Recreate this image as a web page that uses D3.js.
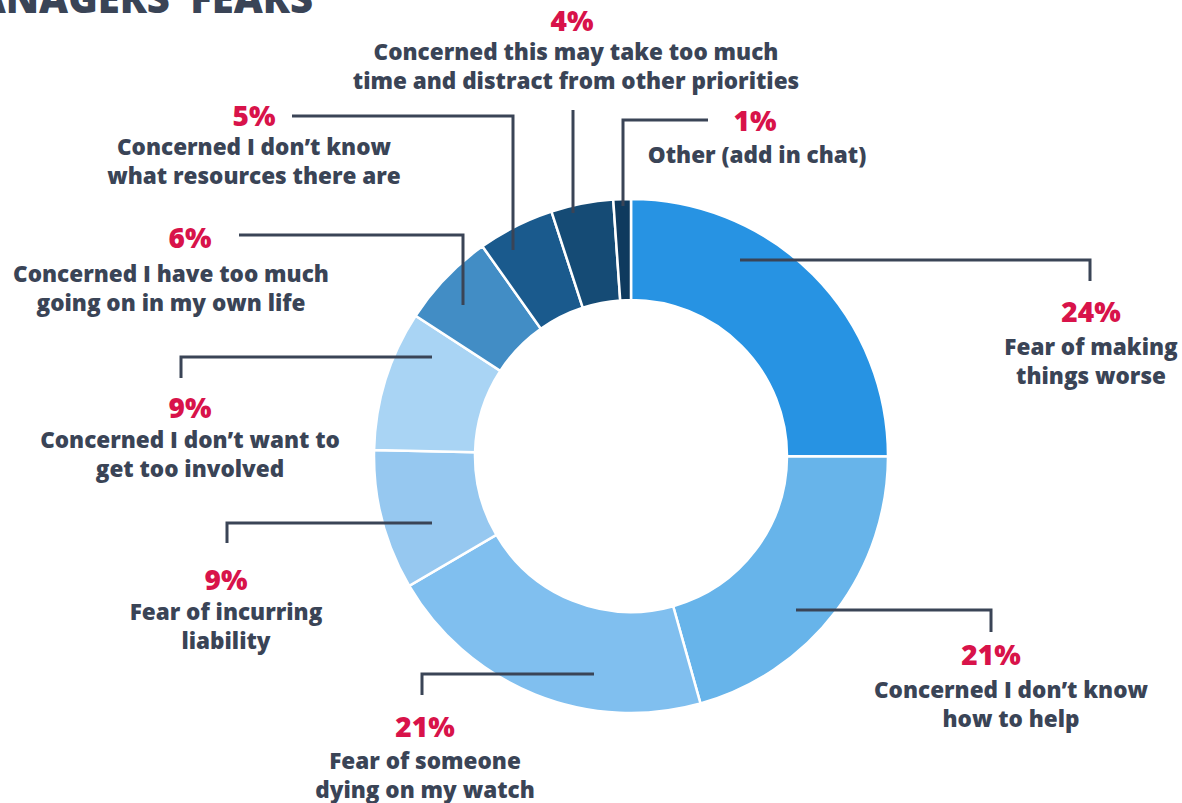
<!DOCTYPE html>
<html>
<head>
<meta charset="utf-8">
<script src="https://cdn.jsdelivr.net/npm/d3@7"></script>
<style>
  body { margin: 0; background: #fff; }
  svg { display: block; font-family: "Open Sans", sans-serif; }
</style>
</head>
<body>
<div id="container"></div>
<script>
const WIDTH = 1182;
const HEIGHT = 803;

var values = [25, 20.6, 20.9, 8.8, 8.8, 6.0, 4.8, 3.9, 1.1];
// shown percentages
var pctLabels = ["24%", "21%", "21%", "9%", "9%", "6%", "5%", "4%", "1%"];
var categories = [
    ["Fear of making", "things worse"],
    ["Concerned I don\u2019t know", "how to help"],
    ["Fear of someone", "dying on my watch"],
    ["Fear of incurring", "liability"],
    ["Concerned I don\u2019t want to", "get too involved"],
    ["Concerned I have too much", "going on in my own life"],
    ["Concerned I don\u2019t know", "what resources there are"],
    ["Concerned this may take too much", "time and distract from other priorities"],
    ["Other (add in chat)"]
];
var colors = ["#2793e3", "#67b4ea", "#80bfef", "#96c8f0", "#a9d4f4",
              "#428dc5", "#1a5a8d", "#154b75", "#0f3a5e"];

// label layout: leader polyline, percent anchor, text anchor
var layout = [
    {line: [[740,260],[1090,260],[1090,281]], pct: [1091,322], tx: 1091, ty: 355},
    {line: [[796,610],[991,610],[991,632]],   pct: [991,665],  tx: 1011, ty: 698},
    {line: [[594,674],[422,674],[422,695]],   pct: [425,737],  tx: 425,  ty: 769},
    {line: [[432,523],[227,523],[227,543]],   pct: [226,590],  tx: 226,  ty: 620},
    {line: [[432,357],[181,357],[181,378]],   pct: [190,418],  tx: 190,  ty: 448},
    {line: [[239,235],[463,235],[463,305]],   pct: [190,248],  tx: 171,  ty: 282},
    {line: [[292,116],[513,116],[513,250]],   pct: [254,126],  tx: 254,  ty: 155},
    {line: [[573,110],[573,213]],             pct: [572,31],   tx: 576,  ty: 60},
    {line: [[708,120],[623,120],[623,206]],   pct: [755,131],  tx: 757,  ty: 163}
];

var createChart = function () {
    var svg = d3.select("#container")
        .append("svg")
        .attr("width", WIDTH)
        .attr("height", HEIGHT);

    svg.append("text")
        .attr("x", 313)
        .attr("y", 13)
        .attr("text-anchor", "end")
        .attr("font-size", 40)
        .attr("font-weight", 800)
        .attr("fill", "#3a4456")
        .text("MANAGERS\u2019 FEARS");

    var pie = d3.pie().sort(null).value(function (d) { return d; });
    var arc = d3.arc().innerRadius(156).outerRadius(257);

    var g = svg.append("g").attr("transform", translate(631, 456));

    g.selectAll("path.slice").data(pie(values))
        .enter()
        .append("path")
        .attr("class", "slice")
        .attr("d", arc)
        .attr("fill", function (d, i) { return colors[i]; })
        .attr("stroke", "#fff")
        .attr("stroke-width", 2.5);

    var line = d3.line();

    svg.selectAll("path.leader").data(layout)
        .enter()
        .append("path")
        .attr("class", "leader")
        .attr("d", function (d) { return line(d.line); })
        .attr("fill", "none")
        .attr("stroke", "#3a4456")
        .attr("stroke-width", 3);

    svg.selectAll("text.pct").data(layout)
        .enter()
        .append("text")
        .attr("class", "pct")
        .attr("x", function (d) { return d.pct[0]; })
        .attr("y", function (d) { return d.pct[1]; })
        .attr("text-anchor", "middle")
        .attr("font-size", 28)
        .attr("font-weight", 800)
        .attr("fill", "#d8134a")
        .text(function (d, i) { return pctLabels[i]; });

    var labels = svg.selectAll("text.cat").data(layout)
        .enter()
        .append("text")
        .attr("class", "cat")
        .attr("text-anchor", "middle")
        .attr("font-size", 22.5)
        .attr("font-weight", 800)
        .attr("fill", "#3a4456");

    labels.each(function (d, i) {
        d3.select(this).selectAll("tspan").data(categories[i])
            .enter()
            .append("tspan")
            .attr("x", d.tx)
            .attr("y", function (s, j) { return d.ty + j * 28.5; })
            .text(function (s) { return s; });
    });
};

var translate = function (x, y) {
    return "translate(" + x + "," + y + ")";
};

window.onload = createChart;
</script>
</body>
</html>
